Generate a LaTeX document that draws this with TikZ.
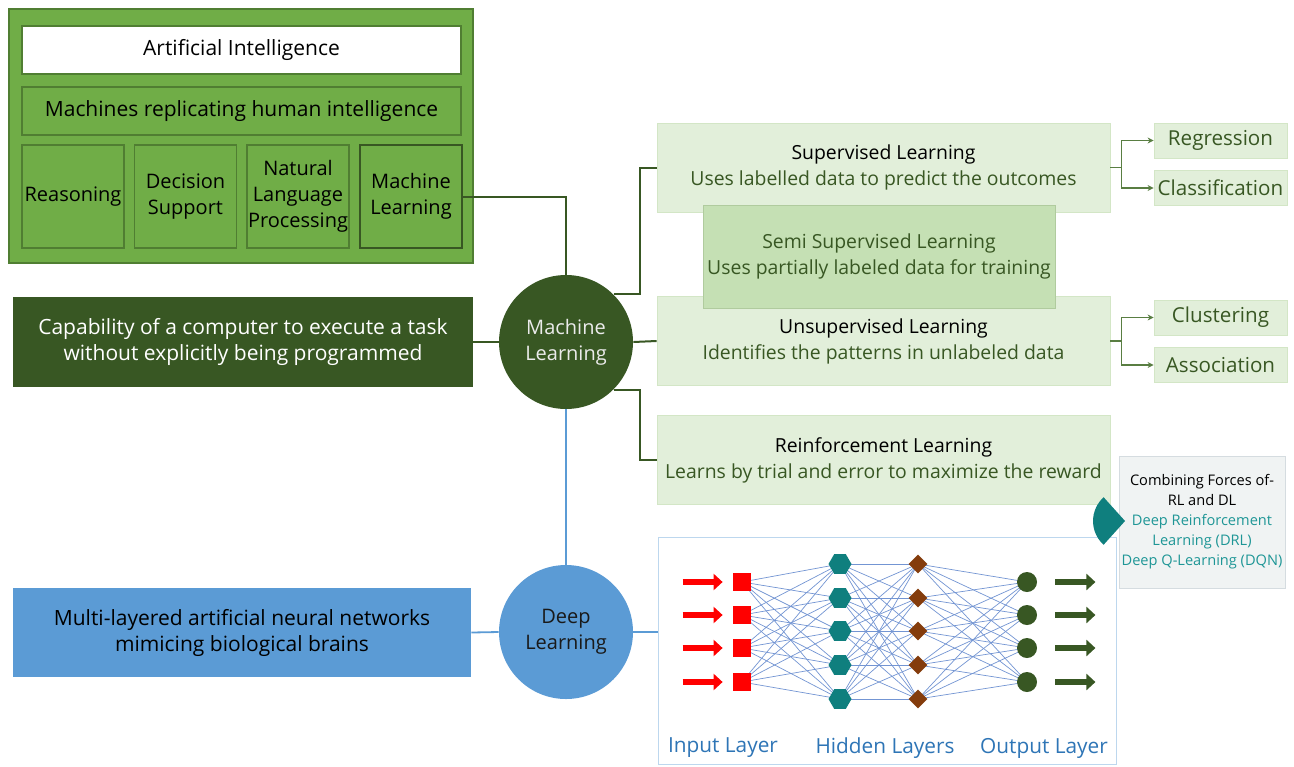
\documentclass[tikz,border=0pt]{standalone}
\usepackage{fontspec}
\setmainfont{Open Sans}
\usetikzlibrary{shapes.geometric,arrows.meta,calc,backgrounds}

\definecolor{aigreen}{HTML}{70AD47}
\definecolor{aiedge}{HTML}{507E32}
\definecolor{darkgreen}{HTML}{385723}
\definecolor{palegreen}{HTML}{E2EFDA}
\definecolor{paleedge}{HTML}{D3E6C6}
\definecolor{semigreen}{HTML}{C5E0B4}
\definecolor{dlblue}{HTML}{5B9BD5}
\definecolor{layerblue}{HTML}{2E75B6}
\definecolor{netblue}{HTML}{4472C4}
\definecolor{tealc}{HTML}{0F7F7E}
\definecolor{brownc}{HTML}{843C0C}
\definecolor{combofill}{HTML}{F0F3F3}
\definecolor{comboedge}{HTML}{D5DCE0}
\definecolor{combotext}{HTML}{1E9696}
\definecolor{nnedge}{HTML}{BDD7EE}

\tikzset{
  base/.style={font=\fontsize{10}{13}\selectfont, align=center, inner sep=0pt},
  bigtext/.style={font=\fontsize{10.5}{13}\selectfont},
  aibox/.style={base, draw=aiedge, fill=aigreen, line width=0.6pt},
  subbox/.style={aibox, minimum width=51pt, minimum height=51.5pt},
  greenbox/.style={base, draw=paleedge, fill=palegreen, text=darkgreen,
    minimum width=226.5pt, minimum height=44.5pt, font=\fontsize{9.7}{13}\selectfont},
  typebox/.style={base, draw=paleedge, fill=palegreen, text=darkgreen,
    minimum width=66.5pt, minimum height=17.5pt, font=\fontsize{10.3}{13}\selectfont},
  hub/.style={base, circle, minimum size=67pt},
  mlline/.style={draw=darkgreen, line width=1pt},
  dlline/.style={draw=dlblue, line width=0.9pt},
  branch/.style={draw=aiedge!80!gray, line width=0.6pt, -{Stealth[length=3pt,width=3pt]}},
  insq/.style={fill=red, minimum size=9pt, inner sep=0pt},
  hexa/.style={regular polygon, regular polygon sides=6, fill=tealc, minimum size=11.5pt, inner sep=0pt},
  dia/.style={diamond, fill=brownc, minimum width=9.5pt, minimum height=9.5pt, inner sep=0pt},
  outdot/.style={circle, fill=darkgreen, minimum size=10pt, inner sep=0pt},
  inarrow/.style={draw=red, line width=3pt, -{Triangle[length=4.5pt,width=8pt]}},
  outarrow/.style={draw=darkgreen, line width=3pt, -{Triangle[length=4.5pt,width=8pt]}},
  netline/.style={draw=netblue!75, line width=0.35pt},
  layerlabel/.style={font=\fontsize{10.4}{13}\selectfont, text=layerblue, inner sep=0pt}
}

\begin{document}
\begin{tikzpicture}[x=0.5pt,y=-0.5pt]
  \useasboundingbox (0,0) rectangle (1294,766);
  \begin{scope}[on background layer]
    \fill[white] (0,0) rectangle (1294,766);
  \end{scope}

  % artificial intelligence block
  \node[aibox, minimum width=232pt, minimum height=127pt] (ai) at (241,136){};
  \node[aibox, bigtext, fill=white, minimum width=219.5pt, minimum height=24pt] (aititle) at (241.5,50){Artificial Intelligence};
  \node[aibox, bigtext, minimum width=219.5pt, minimum height=24pt] (aidef) at (241.5,111){Machines replicating human intelligence};
  \node[subbox] (reason) at (73,196.5){Reasoning};
  \node[subbox] (decision) at (185.5,196.5){Decision\\Support};
  \node[subbox] (nlp) at (298,196.5){Natural\\Language\\Processing};
  \node[subbox, draw=darkgreen, line width=1.1pt] (mlbox) at (411,196.5){Machine\\Learning};

  % machine learning
  \node[base, bigtext, fill=darkgreen, text=white, minimum width=230pt, minimum height=45pt] (mldef) at (243,342){Capability of a computer to execute a task\\without explicitly being programmed};
  \node[hub, fill=darkgreen, text=white!92!black] (ml) at (566,342){Machine\\Learning};

  \node[greenbox] (sup) at (883.5,167.5){\textcolor{black}{Supervised Learning}\\Uses labelled data to predict the outcomes};
  \node[greenbox] (unsup) at (883.5,341){\textcolor{black}{Unsupervised Learning}\\Identifies the patterns in unlabeled data};
  \node[greenbox, draw=semigreen!85!darkgreen, fill=semigreen, minimum width=176pt, minimum height=51.5pt] (semi) at (879,256.5){Semi Supervised Learning\\Uses partially labeled data for training};
  \node[greenbox] (rl) at (883.5,460){\textcolor{black}{Reinforcement Learning}\\Learns by trial and error to maximize the reward};

  \node[typebox] (reg) at (1220.5,140.5){Regression};
  \node[typebox] (cla) at (1220.5,188){Classification};
  \node[typebox] (clu) at (1220.5,317.5){Clustering};
  \node[typebox] (ass) at (1220.5,365){Association};

  \draw[mlline] (mlbox.east) -| (ml.north);
  \draw[mlline] (mldef.east) -- (ml.west);
  \draw[mlline] (ml.45) -| ($(sup.west)+(-17,0)$) -- (sup.west);
  \draw[mlline] (ml.east) -- (unsup.west);
  \draw[mlline] (ml.-45) -| ($(rl.west)+(-17,0)$) -- (rl.west);

  \draw[draw=aiedge!80!gray, line width=0.6pt] (sup.east) -- ++(11,0) coordinate (b1);
  \draw[branch] (b1) |- (reg.west);
  \draw[branch] (b1) |- (cla.west);
  \draw[draw=aiedge!80!gray, line width=0.6pt] (unsup.east) -- ++(11,0) coordinate (b2);
  \draw[branch] (b2) |- (clu.west);
  \draw[branch] (b2) |- (ass.west);

  % deep learning
  \node[base, bigtext, fill=dlblue, text=black, minimum width=229pt, minimum height=44.5pt] (dldef) at (242,632.5){Multi-layered artificial neural networks\\mimicing biological brains};
  \node[hub, fill=dlblue, text=black!90] (dl) at (566,632){Deep\\Learning};
  \node[draw=nnedge, line width=0.5pt, minimum width=229pt, minimum height=113.5pt, inner sep=0pt] (nn) at (887,650.5){};

  \draw[dlline] (ml.south) -- (dl.north);
  \draw[dlline] (dldef.east) -- (dl.west);
  \draw[dlline] (dl.east) -- (dl.east -| nn.west);

  % network
  \foreach \y [count=\i] in {582,615,648,682}{
    \node[insq] (in\i) at (742,\y){};
    \node[outdot] (out\i) at (1027,\y){};
    \draw[inarrow] ($(in\i.west)+(-50,0)$) -- ($(in\i.west)+(-10,0)$);
    \draw[outarrow] ($(out\i.east)+(18,0)$) -- ($(out\i.east)+(58,0)$);
  }
  \foreach \y [count=\i] in {564,598,631,665,699}{
    \node[hexa] (h\i) at (840,\y){};
    \node[dia] (d\i) at (918,\y){};
  }
  \begin{scope}[on background layer]
    \foreach \a in {1,...,5}{
      \foreach \b in {1,...,4}{
        \draw[netline] (in\b.center) -- (h\a.center);
        \draw[netline] (d\a.center) -- (out\b.center);
      }
      \foreach \b in {1,...,5}
        \draw[netline] (h\a.center) -- (d\b.center);
    }
  \end{scope}

  \node[layerlabel] (inlab) at (723,748){Input Layer};
  \node[layerlabel] (hidlab) at (885,748){Hidden Layers};
  \node[layerlabel] (outlab) at (1044,748){Output Layer};

  % combined rl and dl
  \node[base, draw=comboedge, fill=combofill, line width=0.5pt, minimum width=83pt, minimum height=66pt, font=\fontsize{7.3}{10}\selectfont] (drl) at (1202,522){Combining Forces of-\\RL and DL\\\textcolor{combotext}{Deep Reinforcement}\\\textcolor{combotext}{Learning (DRL)}\\\textcolor{combotext}{Deep Q-Learning (DQN)}};
  \fill[tealc] (1125,521) -- ++(132:32) arc[start angle=132, end angle=228, radius=32] -- cycle;
\end{tikzpicture}
\end{document}
